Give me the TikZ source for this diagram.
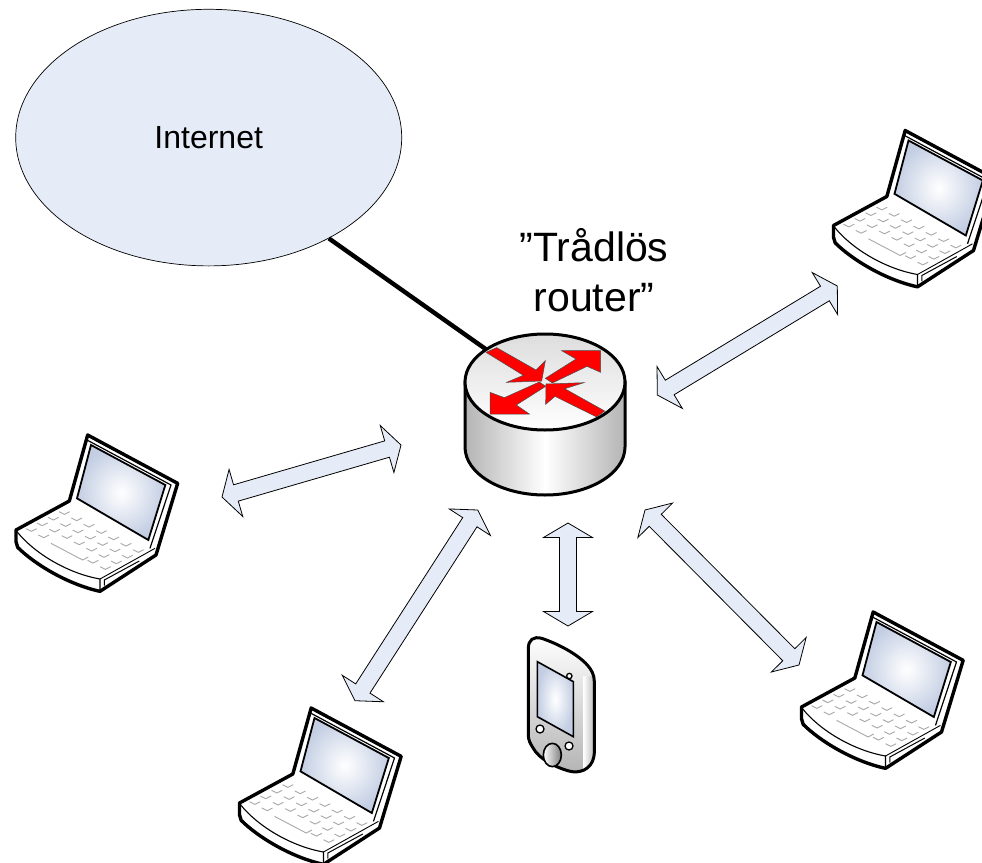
\documentclass[tikz,border=0pt]{standalone}
\usepackage{fontspec}
\setmainfont{Liberation Sans}
\usetikzlibrary{calc,shapes.geometric}
\definecolor{paleblue}{HTML}{E6ECF7}
\definecolor{screenedge}{HTML}{C3CEE3}
\definecolor{keygray}{HTML}{A8A8A8}
\definecolor{sidegray}{HTML}{B4B4B4}
\definecolor{topgray}{HTML}{DDDDDD}
\tikzset{
  flowarrow/.style={draw=black,fill=paleblue,line width=0.8pt,line join=miter},
  redarrow/.style={fill=red,draw=black!70,line width=0.5pt,line join=miter},
  keymark/.style={draw=keygray,line width=0.9pt},
  laptop/.pic={
    \begin{scope}[scale=1/3]
      \draw[fill=white,line width=3.4pt,line join=round] (45,330) -- (205,243) -- (260,45) -- (530,190) -- (465,405) -- (297,514)
        .. controls (200,493) and (100,432) .. (50,382) -- (45,365) -- cycle;
      \foreach \c/\rs in {0/{0,...,6},1/{0,...,6},2/{0,...,6},3/{0,1,5,6}}{
        \foreach \r in \rs {
          \draw[keymark] ({190+37*\r-33*\c-16},{283+19*\r+17*\c-8}) -- ({190+37*\r-33*\c},{283+19*\r+17*\c}) -- ({190+37*\r-33*\c+16},{283+19*\r+17*\c-8});
        }
      }
      \draw[keymark] (150,370) -- (245,420) -- (262,411);
      \draw[line width=1.1pt] (48,335) .. controls (100,400) and (200,460) .. (297,477) -- (297,514);
      \draw[line width=0.9pt] (297,477) -- (462,385);
      \draw[line width=1pt] (310,497) -- (310,480) -- (415,423);
      \draw[line width=1.2pt] (205,243) -- (258,60) -- (510,195) -- (447,385);
      \draw[line width=1.6pt] (275,55) -- (527,190);
      \draw[line width=1.8pt,line join=miter,inner color=white,outer color=screenedge] (270,75) -- (493,195) -- (442,360) -- (228,235) -- cycle;
    \end{scope}
  }
}
% double-headed block arrow between two named coordinates
\newcommand{\blockarrow}[3]{%
  \coordinate (#1a) at (#2);
  \coordinate (#1b) at (#3);
  \draw[flowarrow] (#1a)
    -- ($(#1a)!14.5pt!(#1b)!24.5pt!90:(#1b)$)
    -- ($(#1a)!14.5pt!(#1b)!8.5pt!90:(#1b)$)
    -- ($(#1b)!14.5pt!(#1a)!8.5pt!-90:(#1a)$)
    -- ($(#1b)!14.5pt!(#1a)!24.5pt!-90:(#1a)$)
    -- (#1b)
    -- ($(#1b)!14.5pt!(#1a)!24.5pt!90:(#1a)$)
    -- ($(#1b)!14.5pt!(#1a)!8.5pt!90:(#1a)$)
    -- ($(#1a)!14.5pt!(#1b)!8.5pt!-90:(#1b)$)
    -- ($(#1a)!14.5pt!(#1b)!24.5pt!-90:(#1b)$)
    -- cycle;
}
\begin{document}
\begin{tikzpicture}[x=1pt,y=-1pt]
  \useasboundingbox (0,0) rectangle (982,862);
  \clip (0,0) rectangle (982,862);
  \fill[white] (0,0) rectangle (982,862);
  % Internet
  \node[ellipse,draw=black,line width=0.7pt,fill=paleblue,minimum width=386pt,minimum height=256.6pt,inner sep=0pt,font=\fontsize{32}{36}\selectfont] (internet) at (208.7,137.6) {Internet};
  \coordinate (routerin) at (487,350);
  \draw[line width=4.4pt] (internet.-40) -- (routerin);
  % Router
  \draw[line width=3pt,left color=sidegray,right color=sidegray,middle color=white] (465,382) -- (465,447) arc[start angle=180,end angle=0,x radius=80,y radius=48] -- (625,382) -- cycle;
  \draw[line width=3pt,top color=topgray,bottom color=white] (545,382) ellipse[x radius=80,y radius=48];
  \begin{scope}[shift={(440,320)},scale=1/3]
    \draw[redarrow] (138,97) -- (170,83) -- (288,150) -- (316,122) -- (305,183) -- (200,187) -- (250,166) -- cycle;
    \draw[redarrow] (316,175) -- (408,117) -- (365,92) -- (482,92) -- (482,157) -- (441,139) -- (337,189) -- cycle;
    \draw[redarrow] (298,186) -- (317,199) -- (229,255) -- (268,282) -- (150,282) -- (150,217) -- (193,233) -- cycle;
    \draw[redarrow] (494,273) -- (470,291) -- (345,229) -- (317,253) -- (318,192) -- (432,188) -- (374,206) -- cycle;
  \end{scope}
  % Label
  \node[align=center,font=\fontsize{41}{50}\selectfont] (label) at (594,270) {”Trådlös\\router”};
  % Flow arrows
  \blockarrow{toplap}{657.3,395}{837.3,286}
  \blockarrow{leftlap}{222,497}{401,445}
  \blockarrow{botlap}{355,700.7}{477.7,510}
  \blockarrow{brlap}{645,510}{799,665}
  \blockarrow{phonearr}{568,523}{568,626}
  % Laptops
  \pic (laptopleft) at (1,420) {laptop};
  \pic (laptoptop) at (818.5,115.5) {laptop};
  \pic (laptopbr) at (786.5,597) {laptop};
  \pic (laptopbot) at (224.5,693) {laptop};
  % Phone
  \begin{scope}[shift={(500,510)},scale=1/3]
    \def\phonebody{(85,415) .. controls (85,390) and (100,378) .. (125,385) .. controls (170,400) and (230,430) .. (262,465) .. controls (275,480) and (283,495) .. (283,515) -- (283,725) .. controls (283,770) and (250,790) .. (215,785) .. controls (170,775) and (115,745) .. (100,715) .. controls (90,700) and (85,690) .. (85,675) -- cycle}
    \fill[top color=white,bottom color=sidegray] \phonebody;
    \begin{scope}
      \clip \phonebody;
      \fill[left color=white,right color=sidegray] (250,500) rectangle (285,800);
    \end{scope}
    \draw[line width=3pt] \phonebody;
    \draw[line width=1.6pt,inner color=white,outer color=screenedge] (112,455) -- (220,515) -- (220,680) -- (112,620) -- cycle;
    \draw[line width=1.3pt,fill=white] (208,498) circle[radius=8];
    \draw[line width=1.3pt,fill=white] (120,657) circle[radius=12];
    \draw[line width=1.3pt,fill=white] (207,708) circle[radius=12];
    \draw[line width=1.6pt,left color=white,right color=gray] (157,735) ellipse[x radius=27,y radius=35];
  \end{scope}
\end{tikzpicture}
\end{document}
